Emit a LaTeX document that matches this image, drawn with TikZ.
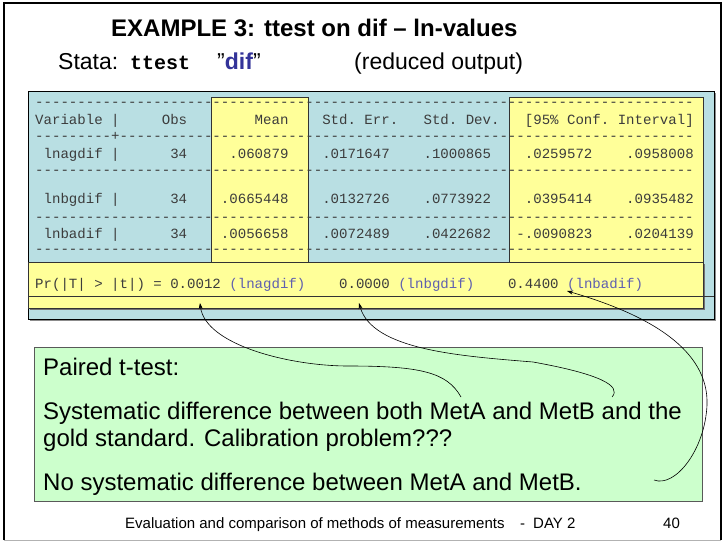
\documentclass[tikz,border=0pt]{standalone}
\usepackage{fontspec}
\setmainfont{Liberation Sans}
\setmonofont{Liberation Mono}
\usetikzlibrary{arrows.meta}

\definecolor{tblblue}{RGB}{185,223,227}
\definecolor{hiyellow}{RGB}{255,255,153}
\definecolor{notegreen}{RGB}{204,255,204}
\definecolor{varblue}{RGB}{95,95,175}
\definecolor{difblue}{RGB}{51,51,153}
\definecolor{tabtext}{RGB}{60,60,60}

\ExplSyntaxOn
\NewDocumentCommand\dashrun{m}{\prg_replicate:nn{#1}{-}}
\ExplSyntaxOff

\begin{document}
\begin{tikzpicture}[x=1pt,y=-1pt,
  mono/.style={anchor=base west, inner sep=0pt, text=tabtext,
    font=\fontsize{14.07}{16}\selectfont\ttfamily},
  sans/.style={anchor=base west, inner sep=0pt,
    font=\fontsize{24}{27}\selectfont},
  foot/.style={anchor=base west, inner sep=0pt,
    font=\fontsize{15}{17}\selectfont},
  hilite/.style={fill=hiyellow, draw=black!80, line width=0.8pt},
  arr/.style={-{Stealth[length=6pt,width=4pt]}, line width=0.6pt}]

\useasboundingbox (0,0) rectangle (727,543);
\fill[white] (0,0) rectangle (727,543);

% slide frame
\draw[black, line width=1.6pt] (4,540) -- (4,3) -- (721,3) -- (721,540);
\draw[black!30, line width=1pt] (4,540.5) -- (721,540.5);

% heading
\node[anchor=base west, inner sep=0pt, font=\fontsize{24}{28}\selectfont\bfseries]
  (title) at (111,37) {EXAMPLE 3: ttest on dif – ln-values};
\node[anchor=base west, inner sep=0pt, font=\fontsize{23}{27}\selectfont]
  (stata) at (58,70) {Stata:};
\node[anchor=base west, inner sep=0pt, font=\fontsize{20}{24}\selectfont\ttfamily\bfseries]
  (cmd) at (130,70) {ttest};
\node[anchor=base west, inner sep=0pt, font=\fontsize{23}{27}\selectfont]
  (arg) at (217,70) {”\textcolor{difblue}{\textbf{dif}}”};
\node[anchor=base west, inner sep=0pt, font=\fontsize{23}{27}\selectfont]
  (reduced) at (354,70) {(reduced output)};

% output panel
\fill[black!45] (30,93) rectangle (716,321);
\draw[fill=tblblue, draw=black, line width=0.9pt] (28,91) rectangle (714,319);
\draw[hilite] (211,97) rectangle (308,262);
\draw[hilite] (509,97) rectangle (703,262);
\fill[black!55] (30,264) rectangle (705,310);
\draw[hilite] (28,262) rectangle (703,308);
\draw[black!80, line width=0.8pt] (28,296) -- (714,296);

% Stata listing
\node[mono] (l0) at (35,106.5) {\dashrun{78}};
\node[mono] (l1) at (35,124) {Variable~|~~~~~Obs~~~~~~~~Mean~~~~Std.~Err.~~~Std.~Dev.~~~[95\%~Conf.~Interval]};
\node[mono] (l2) at (35,140.5) {\dashrun{9}+\dashrun{68}};
\node[mono] (l3) at (35,158) {~lnagdif~|~~~~~~34~~~~~.060879~~~~.0171647~~~~.1000865~~~~.0259572~~~~.0958008};
\node[mono] (l4) at (35,174.5) {\dashrun{78}};
\node[mono] (l5) at (35,203) {~lnbgdif~|~~~~~~34~~~~.0665448~~~~.0132726~~~~.0773922~~~~.0395414~~~~.0935482};
\node[mono] (l6) at (35,221) {\dashrun{78}};
\node[mono] (l7) at (35,238) {~lnbadif~|~~~~~~34~~~~.0056658~~~~.0072489~~~~.0422682~~~-.0090823~~~~.0204139};
\node[mono] (l8) at (35,253.5) {\dashrun{78}};
\node[mono] (pr) at (35,288) {Pr(|T|~>~|t|)~=~0.0012~\textcolor{varblue}{(lnagdif)}~~~~0.0000~\textcolor{varblue}{(lnbgdif)}~~~~0.4400~\textcolor{varblue}{(lnbadif)}};

% comment box
\draw[fill=notegreen, draw=black!65, line width=0.9pt] (34,347) rectangle (702,501);
\node[sans] (n1) at (43,375) {Paired t-test:};
\node[sans] (n2) at (43,419) {Systematic difference between both MetA and MetB and the};
\node[sans] (n3) at (43,446) {gold standard. Calibration problem???};
\node[sans] (n4) at (43,490) {No systematic difference between MetA and MetB.};

% footer
\node[foot] (f1) at (125,528) {Evaluation and comparison of methods of measurements};
\node[foot] (f2) at (520,528) {-};
\node[foot] (f3) at (533,528) {DAY 2};
\node[foot] (f4) at (663,528) {40};

% pointers from the remarks to the p-values
\coordinate (s1) at (461,397);
\coordinate (t1) at (200,303);
\coordinate (s2) at (612,397);
\coordinate (t2) at (359,303);
\coordinate (s3) at (654,480);
\coordinate (t3) at (567,291);
\draw[arr] (s1) .. controls (447,372) and (420,366) .. (348,366)
               .. controls (290,366) and (205,345) .. (t1);
\draw[arr] (s2) .. controls (622,386) and (600,374) .. (533,362)
               .. controls (460,356) and (372,350) .. (t2);
\draw[arr] (s3) .. controls (675,488) and (705,450) .. (707,405)
               .. controls (709,350) and (650,315) .. (t3);
\end{tikzpicture}
\end{document}
